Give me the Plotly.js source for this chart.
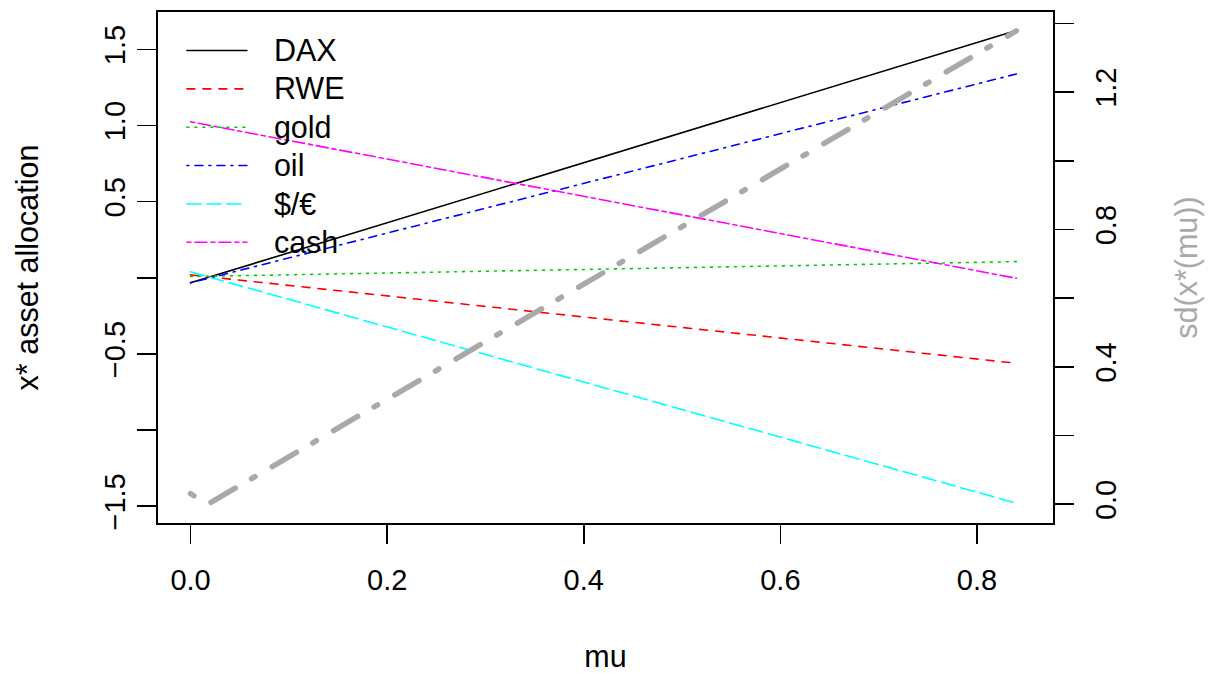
<!DOCTYPE html>
<html>
<head>
<meta charset="utf-8">
<script src="https://cdn.plot.ly/plotly-3.0.1.min.js"></script>
<style>
  html, body { margin: 0; padding: 0; background: #ffffff; }
  #chart { width: 1211px; height: 673px; }
  /* round line ends, like the classic R graphics device */
  .js-line { stroke-linecap: round; stroke-linejoin: round; }
  /* legend labels: a little larger than the row pitch would give, and set further from the key */
  .legendtext { font-size: 30.5px !important; transform: translate(22px, 0px); }
  .legend .scrollbox { clip-path: none !important; }
</style>
</head>
<body>
<div id="chart"></div>
<script>
// target return levels
const mu = [0, 0.84];

// optimal asset weights x*(mu) at both ends of the mu range
const DAX    = [-0.033, 1.623];
const RWE    = [0.019, -0.561];
const gold   = [0.008, 0.106];
const oil    = [-0.033, 1.338];
const usdEur = [0.039, -1.480];
const cash   = [1.024, -0.003];

// portfolio standard deviation along the frontier
const muSd = [0, 0.0175, 0.84];
const sdMu = [0.031, 0.0, 1.378];

const assetNames = ['DAX', 'RWE', 'gold', 'oil', '$/€', 'cash'];
const assetSeries = [DAX, RWE, gold, oil, usdEur, cash];
const assetColors = ['#000000', '#FF0000', '#00CD00', '#0000FF', '#00FFFF', '#FF00FF'];
const assetDash = ['solid', '8px,8px', '2px,6px', '2px,6px,8px,6px', '14px,6px', '4px,4px,12px,4px'];

const FONT = 'Liberation Sans, Arial, Helvetica, sans-serif';
const FS = 29;
const FS_TITLE = 30.5;

const traces = assetSeries.map((vals, i) => ({
  x: mu,
  y: vals,
  name: assetNames[i],
  type: 'scatter',
  mode: 'lines',
  line: { color: assetColors[i], width: 1.6, dash: assetDash[i] },
  hoverinfo: 'x+y+name'
}));

traces.push({
  x: muSd,
  y: sdMu,
  name: 'sd(x*(mu))',
  type: 'scatter',
  mode: 'lines',
  yaxis: 'y2',
  showlegend: false,
  line: { color: '#A9A9A9', width: 5.5, dash: '4px,20px,28px,19px' }
});

const axisCommon = {
  showgrid: false,
  zeroline: false,
  showline: true,
  linecolor: '#000000',
  linewidth: 2,
  ticks: 'outside',
  ticklen: 19,
  tickwidth: 1.6,
  tickcolor: '#000000',
  tickfont: { family: FONT, size: FS, color: '#000000' },
  fixedrange: true
};

const layout = {
  width: 1211,
  height: 673,
  margin: { l: 158, r: 158, t: 12, b: 150, pad: 0 },
  paper_bgcolor: '#ffffff',
  plot_bgcolor: '#ffffff',
  font: { family: FONT, size: FS, color: '#000000' },
  showlegend: true,
  legend: {
    x: 0.0267, y: 0.972, xanchor: 'left', yanchor: 'top',
    bgcolor: 'rgba(0,0,0,0)',
    borderwidth: 0,
    itemwidth: 60,
    tracegroupgap: 0,
    font: { family: FONT, size: 27.2, color: '#000000' }
  },
  xaxis: Object.assign({}, axisCommon, {
    range: [-0.0331, 0.8773],
    tickvals: [0, 0.2, 0.4, 0.6, 0.8],
    ticktext: ['0.0', '0.2', '0.4', '0.6', '0.8'],
    ticklabelstandoff: 11,
    mirror: true,
    title: { text: 'mu', font: { family: FONT, size: FS_TITLE, color: '#000000' }, standoff: 52 }
  }),
  yaxis: Object.assign({}, axisCommon, {
    range: [-1.61, 1.745],
    tickvals: [-1.5, -1, -0.5, 0, 0.5, 1, 1.5],
    ticktext: ['\u22121.5', '', '\u22120.5', '', '0.5', '1.0', '1.5'],
    tickangle: -90,
    mirror: true,
    title: { text: 'x* asset allocation', font: { family: FONT, size: FS_TITLE, color: '#000000' }, standoff: 52 }
  }),
  yaxis2: Object.assign({}, axisCommon, {
    overlaying: 'y',
    side: 'right',
    range: [-0.0545, 1.433],
    tickvals: [0, 0.2, 0.4, 0.6, 0.8, 1.0, 1.2, 1.4],
    ticktext: ['0.0', '', '0.4', '', '0.8', '', '1.2', ''],
    tickangle: -90,
    ticklabelstandoff: 7,
    title: { text: 'sd(x*(mu))', font: { family: FONT, size: FS_TITLE, color: '#A9A9A9' }, standoff: 55 }
  })
};

Plotly.newPlot('chart', traces, layout, { displayModeBar: false, staticPlot: true });
</script>
</body>
</html>
